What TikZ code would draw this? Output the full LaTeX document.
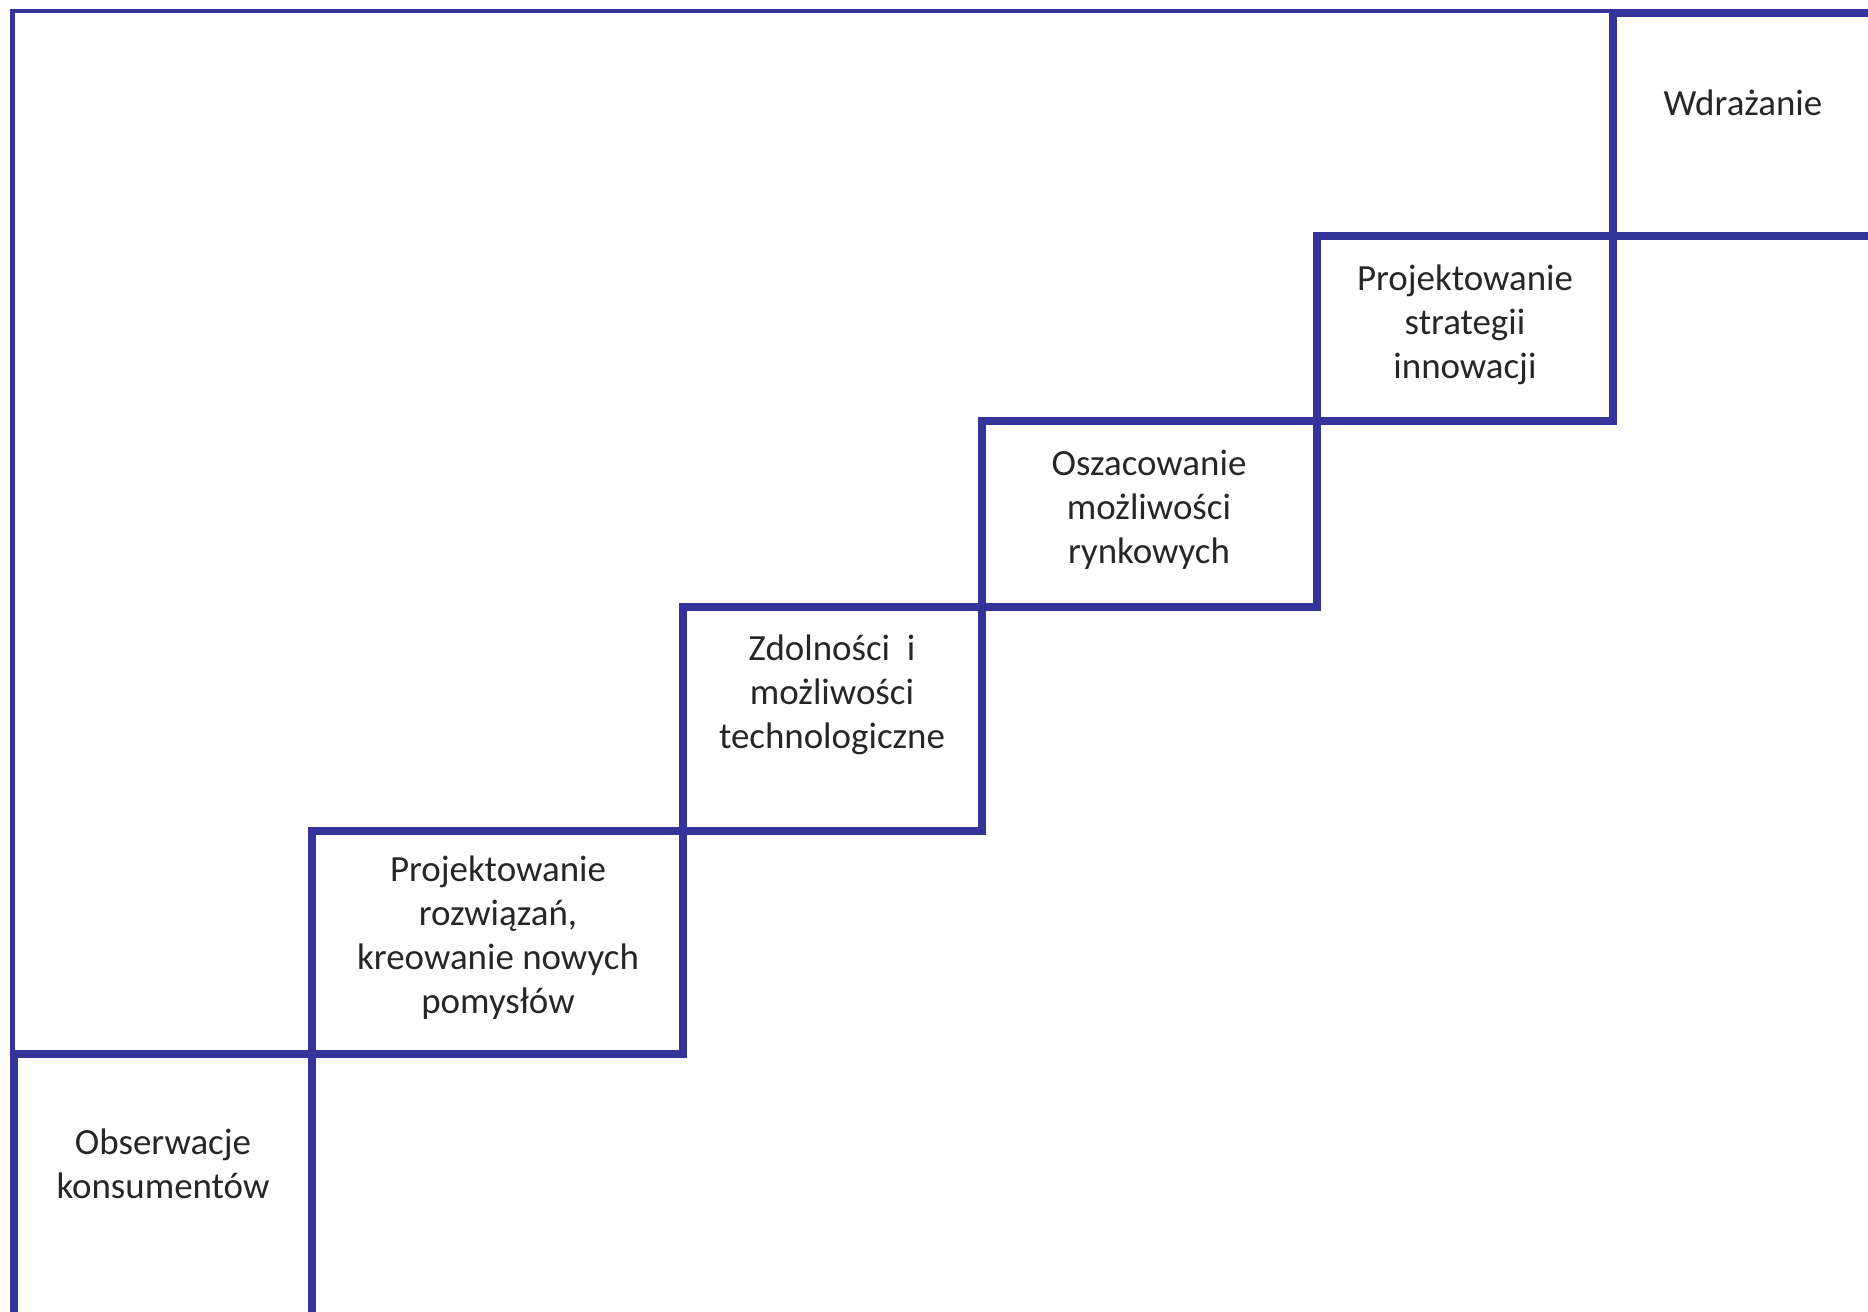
\documentclass[tikz,border=0pt]{standalone}
\usepackage{fontspec}
\setmainfont{Carlito}
\definecolor{stepblue}{RGB}{51,51,153}
\tikzset{
  stepbox/.style={draw=stepblue, line width=2.42pt},
  steptext/.style={font=\fontsize{10.5}{12.5}\selectfont, align=center, anchor=base, text=black!85, inner sep=0pt}
}

\begin{document}
\begin{tikzpicture}[x=0.01cm, y=-0.01cm]
    \useasboundingbox (0,0) rectangle (1868,1312);
    \clip (0,0) rectangle (1868,1312);

    % rama
    \draw[stepblue, line width=1.28pt] (12.5,1330) |- (1613,11);

    % stopnie
    \draw[stepbox] (14,1340) rectangle (312,1054);
    \draw[stepbox] (312,1054) rectangle (683,831);
    \draw[stepbox] (683,831) rectangle (982,607);
    \draw[stepbox] (982,607) rectangle (1317,421);
    \draw[stepbox] (1317,421) rectangle (1613,236);
    \draw[stepbox] (1613,236) rectangle (1900,13);

    % opisy (punkt bazowy = ostatnia linia)
    \node[steptext] (obs) at (163,1198) {Obserwacje\\konsumentów};
    \node[steptext] (proj) at (498,1013) {Projektowanie\\rozwiązań,\\kreowanie nowych\\pomysłów};
    \node[steptext] (zdol) at (832,748) {Zdolności\ \ i\\możliwości\\technologiczne};
    \node[steptext] (osz) at (1149,563) {Oszacowanie\\możliwości\\rynkowych};
    \node[steptext] (strat) at (1465,378) {Projektowanie\\strategii\\innowacji};
    \node[steptext] (wdr) at (1743,115) {Wdrażanie};
\end{tikzpicture}
\end{document}
